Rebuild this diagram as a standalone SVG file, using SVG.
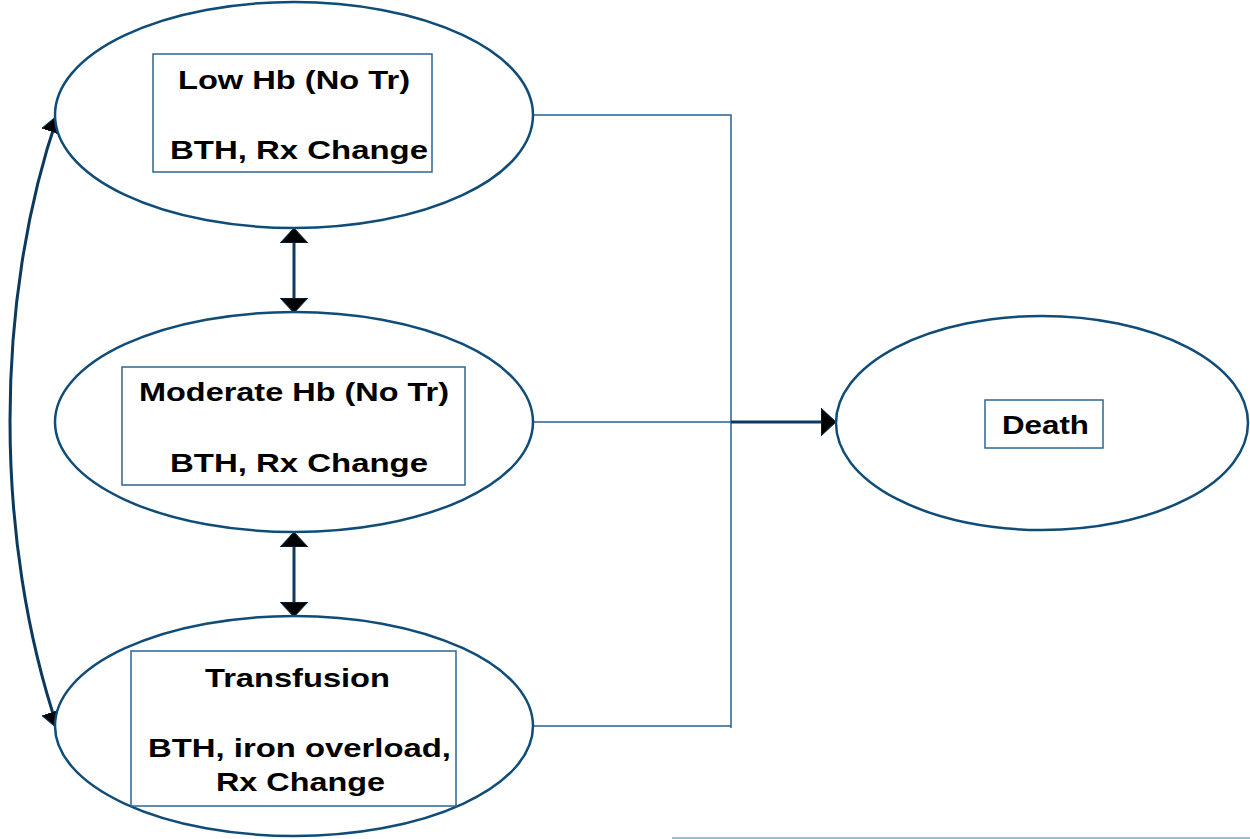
<svg xmlns="http://www.w3.org/2000/svg" width="1250" height="839" viewBox="0 0 1250 839">
<style>
.ell{fill:#fff;stroke:#0f4c78;stroke-width:2.5}
.box{fill:#fff;stroke:#2f6690;stroke-width:1.5}
.t{font-family:"Liberation Sans",Arial,sans-serif;font-weight:bold;font-size:26px;fill:#000;text-anchor:middle}
.ln{fill:none;stroke:#2a5f8c;stroke-width:1.5}
.ar{fill:none;stroke:#0b3a5e;stroke-width:3}
</style>
<defs>
<marker id="ah2" viewBox="0 0 15 28" refX="15" refY="14" markerWidth="15" markerHeight="28" markerUnits="userSpaceOnUse" orient="auto-start-reverse">
<path d="M0,0 L15,14 L0,28 Z" fill="#000" stroke="#0b3a5e" stroke-width="1"/>
</marker>
<marker id="ah3" viewBox="0 0 18 22" refX="18" refY="11" markerWidth="18" markerHeight="22" markerUnits="userSpaceOnUse" orient="auto-start-reverse">
<path d="M0,0 L18,11 L0,22 Z" fill="#000" stroke="#0b3a5e" stroke-width="1"/>
</marker>
</defs>
<g id="connectors">
<path class="ln" d="M533,115 H731 V728 M533,422 H731 M533,726 H731"/>
<path class="ar" d="M731,422 H836" marker-end="url(#ah2)"/>
<path class="ar" d="M294,228 V313" marker-start="url(#ah2)" marker-end="url(#ah2)"/>
<path class="ar" d="M294,532 V617" marker-start="url(#ah2)" marker-end="url(#ah2)"/>
<path class="ar" d="M58,115 C-6,300 -6,540 58,729" marker-start="url(#ah3)" marker-end="url(#ah3)"/>
<line x1="672" y1="838" x2="1250" y2="838" stroke="#8ec5d0" stroke-width="2"/>
</g>
<g id="node-low">
<ellipse class="ell" cx="294" cy="115" rx="239" ry="113"/>
<rect class="box" x="153" y="54" width="279" height="118"/>
<text class="t" x="294" y="89" textLength="232" lengthAdjust="spacingAndGlyphs">Low Hb (No Tr)</text>
<text class="t" x="299" y="159" textLength="258" lengthAdjust="spacingAndGlyphs">BTH, Rx Change</text>
</g>
<g id="node-moderate">
<ellipse class="ell" cx="294" cy="422" rx="239" ry="110"/>
<rect class="box" x="122" y="367" width="343" height="118"/>
<text class="t" x="294" y="401" textLength="310" lengthAdjust="spacingAndGlyphs">Moderate Hb (No Tr)</text>
<text class="t" x="299" y="472" textLength="258" lengthAdjust="spacingAndGlyphs">BTH, Rx Change</text>
</g>
<g id="node-transfusion">
<ellipse class="ell" cx="294" cy="726" rx="239" ry="110"/>
<rect class="box" x="131" y="651" width="325" height="155"/>
<text class="t" x="297.5" y="687" textLength="185" lengthAdjust="spacingAndGlyphs">Transfusion</text>
<text class="t" x="299.5" y="757" textLength="303" lengthAdjust="spacingAndGlyphs">BTH, iron overload,</text>
<text class="t" x="300.5" y="791" textLength="169" lengthAdjust="spacingAndGlyphs">Rx Change</text>
</g>
<g id="node-death">
<ellipse class="ell" cx="1042" cy="423" rx="206" ry="107"/>
<rect class="box" x="985" y="400" width="118" height="48"/>
<text class="t" x="1045.5" y="434" textLength="87" lengthAdjust="spacingAndGlyphs">Death</text>
</g>
</svg>
